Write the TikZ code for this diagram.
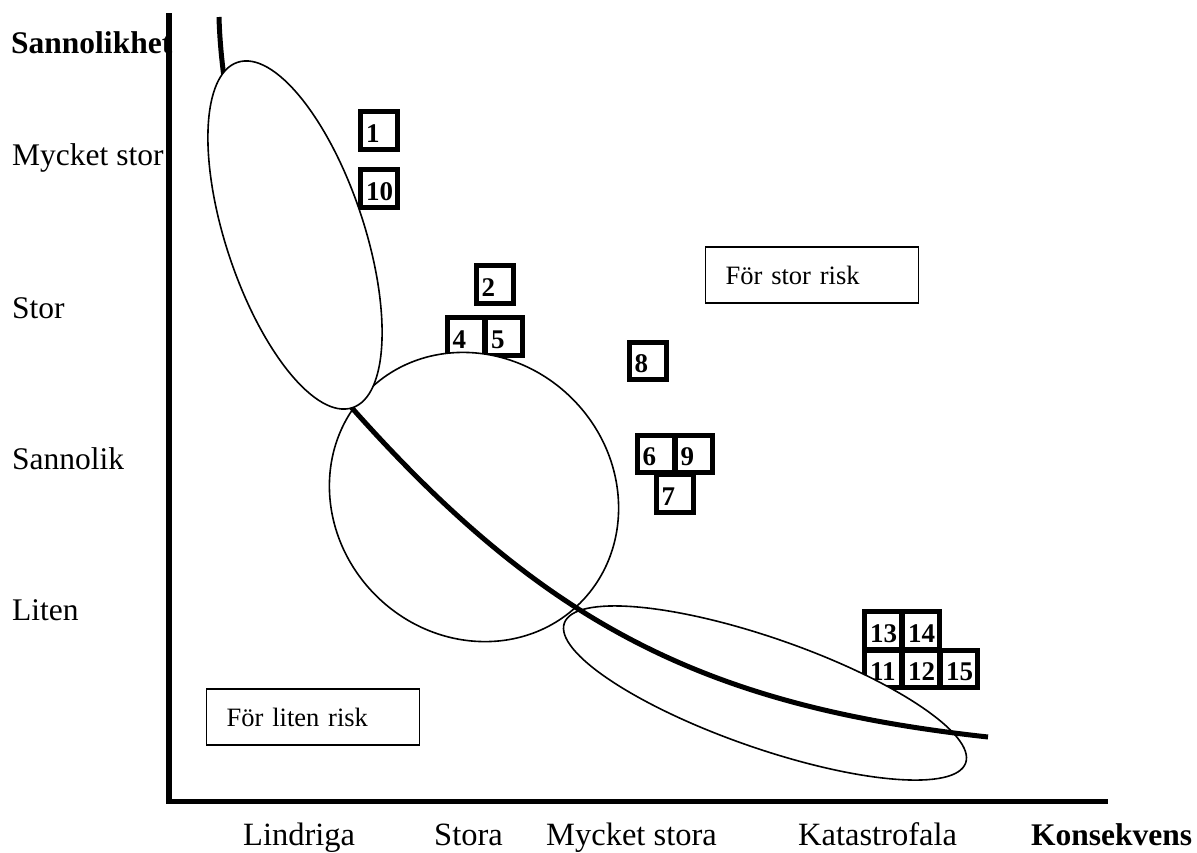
\documentclass[tikz,border=0pt]{standalone}
\usepackage{fontspec}
\setmainfont{Liberation Serif}
\begin{document}
\begin{tikzpicture}[x=1pt,y=-1pt,
  axis/.style={line width=5.5pt},
  ylab/.style={anchor=base west, inner sep=0pt, font=\fontsize{31.5}{36}\selectfont},
  xlab/.style={anchor=base west, inner sep=0pt, font=\fontsize{32.5}{38}\selectfont},
  boldlab/.style={anchor=base west, inner sep=0pt, font=\bfseries\fontsize{31.5}{36}\selectfont},
  riskbox/.style={draw, line width=1.3pt, anchor=west, text width=173pt, align=left, inner xsep=20pt, minimum height=56pt, font=\fontsize{26.5}{32}\selectfont},
  nbox/.style={draw, line width=5pt, fill=white, minimum width=37pt, minimum height=37.5pt, inner sep=0pt},
  numlab/.style={anchor=base west, inner sep=0pt, xshift=8pt, yshift=9.5pt, font=\bfseries\fontsize{27}{30}\selectfont},
  region/.style={draw, line width=1.6pt, fill=white},
  riskcurve/.style={line width=5pt}
]
\useasboundingbox (0,0) rectangle (1197,852);

% axes
\coordinate (ytop) at (169,13);
\coordinate (org) at (169,801.5);
\coordinate (xend) at (1108,801.5);
\draw[axis] (ytop) -- (org) -- (xend);

% axis labels
\node[boldlab] (sann) at (11,53) {Sannolikhet};
\node[ylab] (ymst) at (12,165) {Mycket stor};
\node[ylab] (yst) at (12,318) {Stor};
\node[ylab] (ysl) at (12,469) {Sannolik};
\node[ylab] (yli) at (12,620) {Liten};
\node[xlab] (xli) at (243,845) {Lindriga};
\node[xlab] (xst) at (434,845) {Stora};
\node[xlab] (xmst) at (546,845) {Mycket stora};
\node[xlab] (xka) at (798,845) {Katastrofala};
\node[boldlab] (kons) at (1031,845) {Konsekvens};

% risk boxes
\node[riskbox] (big) at (705,275) {För stor risk};
\node[riskbox] (small) at (206,717) {För liten risk};

% numbered boxes
\node[nbox, label={[numlab]south west:1}] (b1) at (379,130.5) {};
\node[nbox, label={[numlab]south west:10}] (b10) at (379,188.5) {};
\node[nbox, label={[numlab]south west:2}] (b2) at (494.5,284.5) {};
\node[nbox, label={[numlab]south west:4}] (b4) at (465.5,336.5) {};
\node[nbox, label={[numlab]south west:5}] (b5) at (504,336.5) {};
\node[nbox, label={[numlab]south west:8}] (b8) at (647.5,361) {};
\node[nbox, label={[numlab]south west:6}] (b6) at (655.5,454) {};
\node[nbox, label={[numlab]south west:9}] (b9) at (693.5,454) {};
\node[nbox, label={[numlab]south west:7}] (b7) at (674.5,493.5) {};
\node[nbox, label={[numlab]south west:13}] (b13) at (883,630.5) {};
\node[nbox, label={[numlab]south west:14}] (b14) at (921,630.5) {};
\node[nbox, label={[numlab]south west:11}] (b11) at (883,669) {};
\node[nbox, label={[numlab]south west:12}] (b12) at (921,669) {};
\node[nbox, label={[numlab]south west:15}] (b15) at (959,669) {};

% middle region
\begin{scope}[shift={(474,497)}, rotate=-45]
  \draw[region] (0,0) ellipse [x radius=150, y radius=139];
\end{scope}
% lower right region
\begin{scope}[shift={(765,693)}, rotate=-19.2]
  \draw[region] (0,0) ellipse [x radius=212.5, y radius=55];
\end{scope}

% risk curve
\coordinate (c0) at (219,17);
\coordinate (c1) at (352,408);
\coordinate (c2) at (988,737);
\draw[riskcurve] (c0) .. controls (223,160) and (290,340) .. (c1)
  .. controls (545,625) and (705,706) .. (c2);

% upper left region
\begin{scope}[shift={(295,235)}, rotate=-71.6]
  \draw[region] (0,0) ellipse [x radius=182, y radius=69];
\end{scope}
\end{tikzpicture}
\end{document}
